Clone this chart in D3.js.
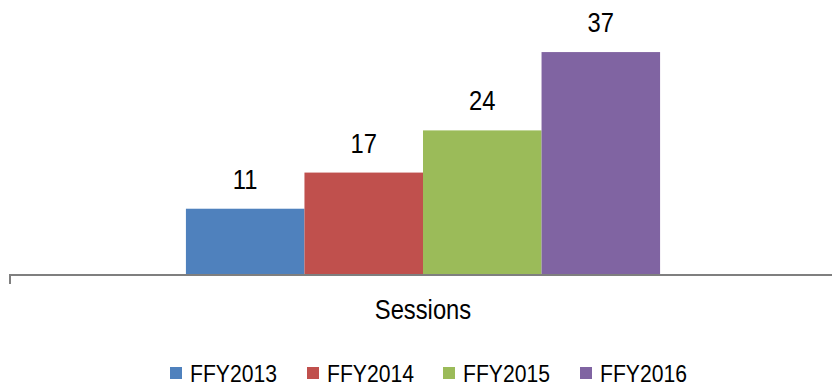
<!DOCTYPE html>
<html>
<head>
<meta charset="utf-8">
<script src="https://cdn.jsdelivr.net/npm/d3@7"></script>
<style>
  html, body { margin: 0; padding: 0; background: #fff; }
  svg { display: block; }
  text { font-family: "Liberation Sans", Arial, sans-serif; fill: #000; }
</style>
</head>
<body>
<svg id="chart" width="832" height="386"></svg>
<script>
// Sessions per federal fiscal year
const categories = ["Sessions"];
const seriesNames = ["FFY2013", "FFY2014", "FFY2015", "FFY2016"];
const seriesValues = [11, 17, 24, 37];
const seriesColors = ["#4F81BD", "#C0504D", "#9BBB59", "#8064A2"];

const svg = d3.select("#chart");
const W = 832, H = 386;
const baseY = 275;
const narrow = 0.88; // horizontal squeeze for a narrow sans look

const x0 = d3.scaleBand().domain(categories).range([10, 836]).paddingOuter(0.371);
const x1 = d3.scaleBand().domain(seriesNames).range([0, x0.bandwidth()]);
const y = d3.scaleLinear().domain([0, 40]).range([baseY, 34]);

function narrowText(sel, cx, baseline, k) {
  sel.attr("transform", `translate(${cx},${baseline}) scale(${k},1)`);
}

// bars with value labels
const g = svg.append("g");
categories.forEach(cat => {
  seriesNames.forEach((s, i) => {
    const v = seriesValues[i];
    g.append("rect")
      .attr("x", x0(cat) + x1(s))
      .attr("y", y(v))
      .attr("width", x1.bandwidth())
      .attr("height", y(0) - y(v))
      .attr("fill", seriesColors[i]);
    g.append("text")
      .attr("text-anchor", "middle")
      .style("font-size", "27px")
      .text(v)
      .call(narrowText, x0(cat) + x1(s) + x1.bandwidth() / 2, y(v) - 20, narrow);
  });
});

// category axis
const axis = d3.axisBottom(x0).tickSize(0).tickFormat("");
const ag = svg.append("g").attr("transform", `translate(0,${baseY})`).call(axis);
ag.select(".domain").remove();
ag.selectAll(".tick").remove();
ag.append("line")
  .attr("x1", 9).attr("x2", W).attr("y1", 0).attr("y2", 0)
  .attr("stroke", "#7f7f7f").attr("stroke-width", 2);
ag.append("line")
  .attr("x1", 10).attr("x2", 10).attr("y1", 0).attr("y2", 9)
  .attr("stroke", "#7f7f7f").attr("stroke-width", 2);

categories.forEach(cat => {
  svg.append("text")
    .attr("text-anchor", "middle")
    .style("font-size", "27px")
    .text(cat)
    .call(narrowText, x0(cat) + x0.bandwidth() / 2, 319, narrow);
});

// legend
const legendX = [170, 307, 443, 580];
seriesNames.forEach((s, i) => {
  const lg = svg.append("g");
  lg.append("rect")
    .attr("x", legendX[i]).attr("y", 367)
    .attr("width", 12).attr("height", 12)
    .attr("fill", seriesColors[i]);
  lg.append("text")
    .attr("text-anchor", "start")
    .style("font-size", "23px")
    .text(s)
    .call(narrowText, legendX[i] + 20, 382, 0.92);
});
</script>
</body>
</html>
